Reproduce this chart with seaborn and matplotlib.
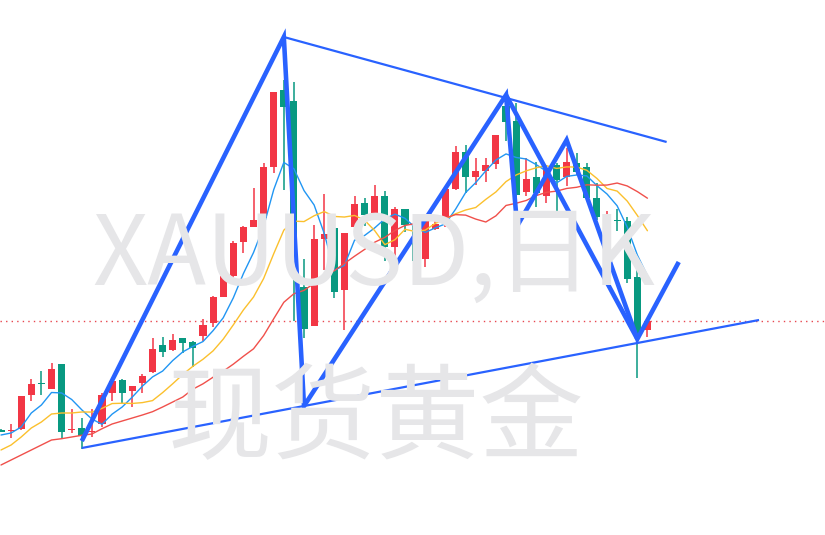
import numpy as np
import pandas as pd
import matplotlib
matplotlib.use("Agg")
import matplotlib.pyplot as plt
import seaborn as sns

# ---------------- data (daily candles, XAUUSD) ----------------
opens = [1570.5, 1569, 1571, 1605, 1616.7, 1610.7, 1636, 1570.5, 1572.3, 1568.5,
         1576, 1607, 1620, 1609.3, 1617, 1628.3, 1655, 1650, 1662.3, 1658.3,
         1664.3, 1677.3, 1703.3, 1724.3, 1758.3, 1773.3, 1782, 1833.3, 1910, 1899,
         1713.3, 1674, 1761, 1772.3, 1710, 1773.3, 1797.3, 1784, 1804, 1753.3,
         1791, 1774, 1740.7, 1771, 1777.3, 1811, 1848, 1822.7, 1829, 1835.7,
         1894, 1879, 1808.3, 1823, 1804, 1835, 1822.7, 1837, 1833.3, 1802.3,
         1777, 1780.5, 1779, 1723.3, 1670]
closes = [1568.5, 1570.5, 1604.3, 1616, 1615.7, 1631, 1568.3, 1571.5, 1564.3, 1569.5,
          1605, 1619, 1607.3, 1614, 1624, 1651, 1648.3, 1660, 1657.3, 1651.7,
          1675, 1703, 1724, 1757, 1773.3, 1780, 1833, 1908.3, 1893.3, 1741.5,
          1671, 1761, 1766, 1708.3, 1767.3, 1796, 1785, 1804, 1753.3, 1791,
          1775, 1739.3, 1779.3, 1776, 1811, 1848, 1823, 1829, 1835, 1865,
          1878.3, 1805.5, 1821, 1806.7, 1832, 1820, 1838.3, 1828, 1802.3, 1783.3,
          1778, 1779.5, 1721, 1663.3, 1679]
highs = [1571, 1576, 1604.5, 1621, 1629, 1637, 1636.5, 1591, 1582, 1591,
         1607, 1620, 1621, 1614, 1626, 1662, 1663.3, 1666, 1662.3, 1659,
         1681.5, 1704, 1742, 1759, 1774.3, 1812.3, 1837, 1908.3, 1920, 1918,
         1741, 1775, 1806, 1785, 1767.3, 1804.3, 1802.3, 1815, 1809, 1793,
         1791, 1774, 1780, 1784, 1811, 1854, 1855, 1842, 1842, 1865,
         1904, 1897, 1842, 1838, 1835, 1837, 1852.3, 1847.3, 1836.7, 1817,
         1789, 1790.7, 1782.7, 1735.7, 1679]
lows = [1568, 1562, 1570.5, 1599.3, 1605, 1610.7, 1561, 1567, 1551, 1563,
        1573, 1599.3, 1597.3, 1593, 1607, 1627.3, 1643.3, 1649.3, 1647.3, 1633.3,
        1659, 1673.3, 1703, 1716, 1747, 1773.3, 1782, 1827.3, 1810, 1679,
        1662, 1674, 1730, 1702.3, 1670, 1767, 1774, 1784, 1739.3, 1743,
        1768, 1729, 1733, 1770, 1773, 1810, 1807, 1815, 1818.3, 1830.7,
        1859.3, 1773.3, 1804, 1793.3, 1797.3, 1781.7, 1814, 1825, 1802, 1780,
        1767.3, 1769.3, 1717.3, 1621.7, 1663]

# moving-average values before a full window is available
ma5_head = [1565, 1567, 1573, 1587]
ma10_head = [1550, 1555, 1563, 1572, 1578, 1586, 1587, 1587, 1588]
ma20_head = [1535, 1540, 1545, 1550, 1555, 1560, 1561.3, 1563, 1564.7, 1566,
             1571.3, 1576, 1579, 1582, 1585, 1588.3, 1593, 1598, 1603]

# hand-drawn pattern lines (bar index, price)
zz_x = [8, 28, 30, 50, 51.1, 56, 63, 67.1]
zz_y = [1559, 1963, 1594, 1905, 1774, 1860, 1661, 1738]
zz2_x = [50, 63]
zz2_y = [1905, 1661]
upper_x = [28, 65.9]
upper_y = [1963, 1858]
lower_x = [8, 75.05]
lower_y = [1552, 1680]

wm_title = "XAUUSD,日K"
wm_sub = "现货黄金"

# ---------------- styling ----------------
sns.set_theme(style="white")
plt.rcParams['font.family'] = ['Noto Sans CJK SC', 'DejaVu Sans']

UP = '#f23645'
DOWN = '#089981'
LINE_BLUE = '#2962ff'

df = pd.DataFrame({'o': opens, 'c': closes, 'h': highs, 'l': lows})
df['i'] = np.arange(len(df))
ma5 = df['c'].rolling(5).mean().to_numpy()
ma10 = df['c'].rolling(10).mean().to_numpy()
ma20 = df['c'].rolling(20).mean().to_numpy()
ma5[:len(ma5_head)] = ma5_head
ma10[:len(ma10_head)] = ma10_head
ma20[:len(ma20_head)] = ma20_head
df['ma5'] = ma5
df['ma10'] = ma10
df['ma20'] = ma20

fig = plt.figure(figsize=(8.25, 5.35), dpi=100)
ax = fig.add_axes([0, 0, 1, 1])
ax.set_axis_off()
ax.set_xlim(-0.099, 81.58)
ax.set_ylim(1465, 2000)

# watermark
fig.text(374 / 825, 1 - 285 / 535, wm_title, ha='center', va='baseline',
         fontsize=69.5, color='#e6e6e8', zorder=0,
         family=['Noto Sans CJK SC', 'DejaVu Sans'])
fig.text(376 / 825, 1 - 451 / 535, wm_sub, ha='center', va='baseline',
         fontsize=75, color='#e6e6e8', zorder=0,
         family=['Noto Sans CJK SC', 'DejaVu Sans'])

# last price dotted line
ax.axhline(closes[-1], color='#e8474f', lw=1.0, ls=(0, (1, 3)), zorder=1)

# candles
colors = [UP if c >= o else DOWN for o, c in zip(opens, closes)]
ax.vlines(df['i'], df['l'], df['h'], colors=colors, lw=1.1, zorder=2)
bottoms = np.minimum(df['o'], df['c'])
heights = np.maximum(np.abs(df['c'] - df['o']), 1.0)
ax.bar(df['i'], heights, bottom=bottoms, width=0.7, color=colors,
       edgecolor=colors, linewidth=0, zorder=3)

# moving averages
sns.lineplot(data=df, x='i', y='ma5', color='#2196f3', lw=1.0, ax=ax, zorder=4)
sns.lineplot(data=df, x='i', y='ma10', color='#fbc02d', lw=1.0, ax=ax, zorder=4)
sns.lineplot(data=df, x='i', y='ma20', color='#f0504b', lw=1.0, ax=ax, zorder=4)

# drawn lines
ax.plot(upper_x, upper_y, color=LINE_BLUE, lw=1.6, zorder=5, solid_capstyle='butt')
ax.plot(lower_x, lower_y, color=LINE_BLUE, lw=1.6, zorder=5, solid_capstyle='butt')
ax.plot(zz_x, zz_y, color=LINE_BLUE, lw=3.3, zorder=6, solid_joinstyle='miter',
        solid_capstyle='butt')
ax.plot(zz2_x, zz2_y, color=LINE_BLUE, lw=3.3, zorder=6, solid_capstyle='butt')

ax.set_xlabel('')
ax.set_ylabel('')
fig.savefig('out.png', dpi=100)
